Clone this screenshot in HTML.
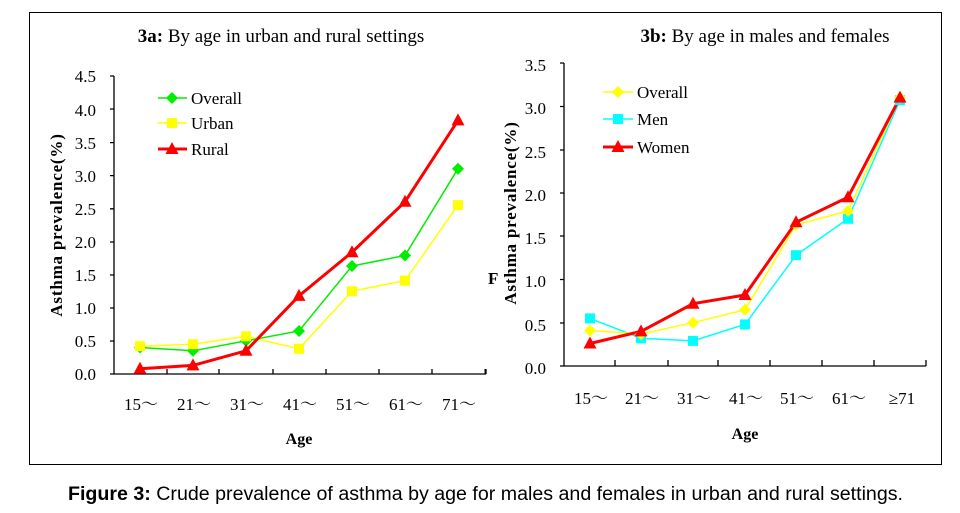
<!DOCTYPE html>
<html><head><meta charset="utf-8"><style>
html,body{margin:0;padding:0;background:#fff;}
svg{display:block;}
text{font-family:"Liberation Serif","Noto Serif CJK SC",serif;fill:#000;}
.cap{font-family:"Liberation Sans",sans-serif;font-weight:bold;}
</style></head><body>
<svg width="960" height="513" viewBox="0 0 960 513" xmlns="http://www.w3.org/2000/svg">
<defs>
<path id="dg" d="M0,-6 L6,0 L0,6 L-6,0Z" fill="#00ee00"/>
<path id="dy" d="M0,-6 L6,0 L0,6 L-6,0Z" fill="#ffff00"/>
<rect id="sy" x="-5" y="-5" width="10" height="10" fill="#ffff00"/>
<rect id="sc" x="-5" y="-5" width="10" height="10" fill="#00ffff"/>
<path id="tr" d="M0,-7 L6.5,5 L-6.5,5Z" fill="#ff0000"/>
</defs>
<rect x="29.5" y="12.5" width="912" height="452" fill="none" stroke="#000" stroke-width="1"/>

<!-- Chart A -->
<text x="281" y="42" font-size="19" text-anchor="middle"><tspan font-weight="bold">3a:</tspan> By age in urban and rural settings</text>
<g stroke="#000" stroke-width="1.3" fill="none">
<path d="M114,76 V374 H486"/>
<path d="M110,76H114M110,109H114M110,142.6H114M110,175.6H114M110,208.8H114M110,242H114M110,275H114M110,308H114M110,341H114M110,374H114"/>
<path d="M167,374V369M219,374V369M273,374V369M326,374V369M379,374V369M432,374V369M486,374V369"/>
</g>
<g font-size="17" text-anchor="end">
<text x="96" y="82">4.5</text><text x="96" y="116">4.0</text><text x="96" y="149">3.5</text><text x="96" y="182">3.0</text><text x="96" y="215">2.5</text><text x="96" y="248">2.0</text><text x="96" y="281">1.5</text><text x="96" y="314">1.0</text><text x="96" y="347">0.5</text><text x="96" y="380">0.0</text>
</g>
<g font-size="17" text-anchor="middle">
<text x="141" y="410">15～</text><text x="194" y="410">21～</text><text x="247" y="410">31～</text><text x="300" y="410">41～</text><text x="353" y="410">51～</text><text x="406" y="410">61～</text><text x="459" y="410">71～</text>
</g>
<text x="299" y="444" font-size="16" font-weight="bold" text-anchor="middle">Age</text>
<text transform="translate(62,225) rotate(-90)" font-size="17" font-weight="bold" text-anchor="middle" letter-spacing="0.8">Asthma prevalence(%)</text>

<polyline fill="none" stroke="#ffff00" stroke-width="1.5" points="140,346.2 193,344.2 246,336.3 299,348.8 352,291.2 405,280.6 458,205.1"/>
<polyline fill="none" stroke="#00ee00" stroke-width="1.5" points="140,347.5 193,350.8 246,340.9 299,331 352,266 405,255.5 458,168.7"/>
<polyline fill="none" stroke="#ff0000" stroke-width="3" points="140,368.7 193,365.4 246,350.8 299,295.9 352,252.2 405,201.8 458,120.4"/>
<g>
<use href="#dg" x="140" y="347.5"/><use href="#dg" x="193" y="350.8"/><use href="#dg" x="246" y="340.9"/><use href="#dg" x="299" y="331"/><use href="#dg" x="352" y="266"/><use href="#dg" x="405" y="255.5"/><use href="#dg" x="458" y="168.7"/>
<use href="#sy" x="140" y="346.2"/><use href="#sy" x="193" y="344.2"/><use href="#sy" x="246" y="336.3"/><use href="#sy" x="299" y="348.8"/><use href="#sy" x="352" y="291.2"/><use href="#sy" x="405" y="280.6"/><use href="#sy" x="458" y="205.1"/>
<use href="#tr" x="140" y="368.7"/><use href="#tr" x="193" y="365.4"/><use href="#tr" x="246" y="350.8"/><use href="#tr" x="299" y="295.9"/><use href="#tr" x="352" y="252.2"/><use href="#tr" x="405" y="201.8"/><use href="#tr" x="458" y="120.4"/>
</g>
<line x1="158" y1="98" x2="187" y2="98" stroke="#00ee00" stroke-width="1.5"/><use href="#dg" x="172" y="98"/>
<line x1="158" y1="123" x2="187" y2="123" stroke="#ffff00" stroke-width="1.5"/><use href="#sy" x="172" y="123"/>
<line x1="158" y1="149" x2="187" y2="149" stroke="#ff0000" stroke-width="3"/><use href="#tr" x="172" y="149"/>
<g font-size="17"><text x="191" y="104">Overall</text><text x="191" y="129">Urban</text><text x="191" y="155">Rural</text></g>

<!-- Chart B -->
<text x="765" y="42" font-size="19" text-anchor="middle"><tspan font-weight="bold">3b:</tspan> By age in males and females</text>
<g stroke="#000" stroke-width="1.3" fill="none">
<path d="M564,63 V366 H926"/>
<path d="M560,63H564M560,106.5H564M560,150H564M560,193H564M560,236H564M560,279.5H564M560,323H564M560,366H564"/>
<path d="M615,366V360M668,366V360M718,366V360M770,366V360M822,366V360M874,366V360M926,366V360"/>
</g>
<path d="M480,374H485V369" stroke="#000" stroke-width="1" fill="none"/>
<g font-size="17" text-anchor="end">
<text x="546" y="71">3.5</text><text x="546" y="114">3.0</text><text x="546" y="158">2.5</text><text x="546" y="201">2.0</text><text x="546" y="244">1.5</text><text x="546" y="287">1.0</text><text x="546" y="331">0.5</text><text x="546" y="374">0.0</text>
</g>
<g font-size="17" text-anchor="middle">
<text x="591" y="404">15～</text><text x="642" y="404">21～</text><text x="694" y="404">31～</text><text x="746" y="404">41～</text><text x="797" y="404">51～</text><text x="849" y="404">61～</text><text x="902" y="404">≥71</text>
</g>
<text x="745" y="439" font-size="16" font-weight="bold" text-anchor="middle">Age</text>
<text x="488" y="284" font-size="17" font-weight="bold">F</text>
<text transform="translate(516,213) rotate(-90)" font-size="17" font-weight="bold" text-anchor="middle" letter-spacing="0.8">Asthma prevalence(%)</text>

<polyline fill="none" stroke="#00ffff" stroke-width="1.5" points="590,318.4 641,338.3 693,340.9 745,324.4 796,255.2 848,218.8 900,100.2"/>
<polyline fill="none" stroke="#ffff00" stroke-width="1.5" points="590,330.5 641,334 693,322.7 745,309.7 796,224.9 848,211 900,97.6"/>
<polyline fill="none" stroke="#ff0000" stroke-width="3" points="590,343.5 641,331.4 693,303.7 745,295 796,222.3 848,197.2 900,97.6"/>
<g>
<use href="#sc" x="590" y="318.4"/><use href="#sc" x="641" y="338.3"/><use href="#sc" x="693" y="340.9"/><use href="#sc" x="745" y="324.4"/><use href="#sc" x="796" y="255.2"/><use href="#sc" x="848" y="218.8"/><use href="#sc" x="900" y="100.2"/>
<use href="#dy" x="590" y="330.5"/><use href="#dy" x="641" y="334"/><use href="#dy" x="693" y="322.7"/><use href="#dy" x="745" y="309.7"/><use href="#dy" x="796" y="224.9"/><use href="#dy" x="848" y="211"/><use href="#dy" x="900" y="97.6"/>
<use href="#tr" x="590" y="343.5"/><use href="#tr" x="641" y="331.4"/><use href="#tr" x="693" y="303.7"/><use href="#tr" x="745" y="295"/><use href="#tr" x="796" y="222.3"/><use href="#tr" x="848" y="197.2"/><use href="#tr" x="900" y="97.6"/>
</g>
<line x1="603" y1="92" x2="633" y2="92" stroke="#ffff00" stroke-width="1.5"/><use href="#dy" x="618" y="92"/>
<line x1="603" y1="119" x2="633" y2="119" stroke="#00ffff" stroke-width="1.5"/><use href="#sc" x="618" y="119"/>
<line x1="603" y1="147" x2="633" y2="147" stroke="#ff0000" stroke-width="3"/><use href="#tr" x="618" y="147"/>
<g font-size="17"><text x="637" y="98">Overall</text><text x="637" y="125">Men</text><text x="637" y="153">Women</text></g>

<text class="cap" x="68" y="500" font-size="19" textLength="835" lengthAdjust="spacingAndGlyphs">Figure 3: <tspan font-weight="normal">Crude prevalence of asthma by age for males and females in urban and rural settings.</tspan></text>
</svg>
</body></html>
